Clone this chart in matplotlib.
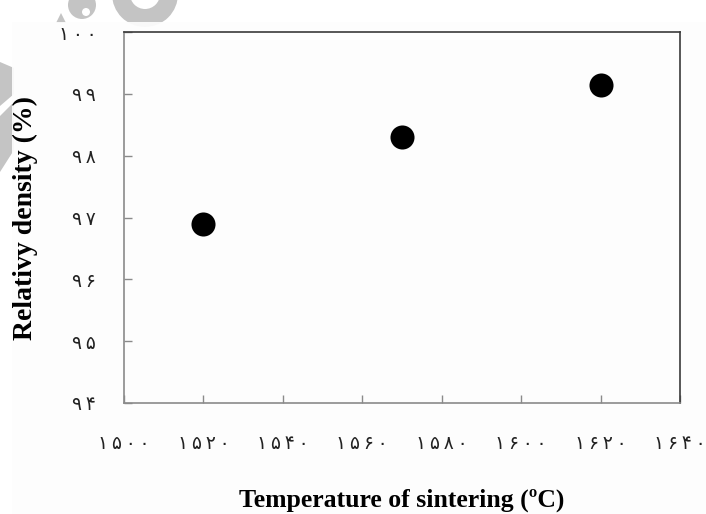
import matplotlib
matplotlib.use("Agg")
import matplotlib.pyplot as plt
from matplotlib.patches import Polygon, Rectangle, Wedge, Circle

# sintering temperature (degC) vs relative density (%)
temperature = [1520, 1570, 1620]
density = [96.9, 98.3, 99.15]

x_ticks = [1500, 1520, 1540, 1560, 1580, 1600, 1620, 1640]
y_ticks = [94, 95, 96, 97, 98, 99, 100]

PERSIAN = str.maketrans("0123456789", "۰۱۲۳۴۵۶۷۸۹")


def fa(num):
    # persian digits, slightly spaced
    return "\u2009".join(str(num).translate(PERSIAN))


W, H = 706, 514
fig = plt.figure(figsize=(W / 100, H / 100), dpi=100)
fig.patch.set_facecolor("white")


def px(points):
    # image pixel coords (origin top-left) -> display coords
    return [(x, H - y) for x, y in points]


# faint logo behind the chart
wm = "#c4c4c4"
fig.add_artist(Wedge((145, H + 6), 33, 180, 360, width=18, transform=None,
                     facecolor=wm, edgecolor="none", zorder=0))
fig.add_artist(Circle((82, H - 5), 14, transform=None, facecolor=wm,
                      edgecolor="none", zorder=0))
fig.add_artist(Circle((86, H - 12), 4, transform=None, facecolor="white",
                      edgecolor="none", zorder=0))
fig.add_artist(Polygon(px([(56, 23), (61, 13), (66, 23)]), transform=None,
                       facecolor=wm, edgecolor="none", zorder=0))
fig.add_artist(Polygon(px([(0, 62), (14, 68), (14, 94), (0, 106)]), transform=None,
                       facecolor=wm, edgecolor="none", zorder=0))
fig.add_artist(Polygon(px([(0, 116), (14, 102), (14, 150), (0, 172)]), transform=None,
                       facecolor=wm, edgecolor="none", zorder=0))
fig.add_artist(Rectangle((12, 0), W - 12, H - 22, transform=None,
                         facecolor="#fdfdfd", edgecolor="none", alpha=0.93, zorder=0.5))

ax = fig.add_axes([124 / W, 1 - 403 / H, (680 - 124) / W, (403 - 32) / H])
ax.set_zorder(2)
ax.set_facecolor("none")

ax.scatter(temperature, density, s=300, color="black", zorder=3, linewidths=0)

ax.set_xlim(1500, 1640)
ax.set_ylim(94, 100)
ax.set_xticks(x_ticks)
ax.set_yticks(y_ticks)
ax.set_xticklabels([fa(t) for t in x_ticks], fontfamily="DejaVu Sans", fontsize=13.5, color="#222222")
ax.set_yticklabels([fa(t) for t in y_ticks], fontfamily="DejaVu Sans", fontsize=13.5, color="#222222")
ax.tick_params(axis="both", direction="in", length=6, width=1, color="#8a8a8a")
ax.tick_params(axis="x", pad=22)
ax.tick_params(axis="y", pad=20)

for side in ("left", "bottom"):
    ax.spines[side].set_color("#8a8a8a")
for side in ("top", "right"):
    ax.spines[side].set_color("#3a3a3a")
for sp in ax.spines.values():
    sp.set_linewidth(1.2)

ax.set_xlabel("Temperature of sintering (ºC)", fontfamily="Liberation Serif",
              fontweight="bold", fontsize=18.5, labelpad=26)
ax.set_ylabel("Relativy density (%)", fontfamily="Liberation Serif",
              fontweight="bold", fontsize=20, labelpad=15)

fig.savefig("out.png", dpi=100)
